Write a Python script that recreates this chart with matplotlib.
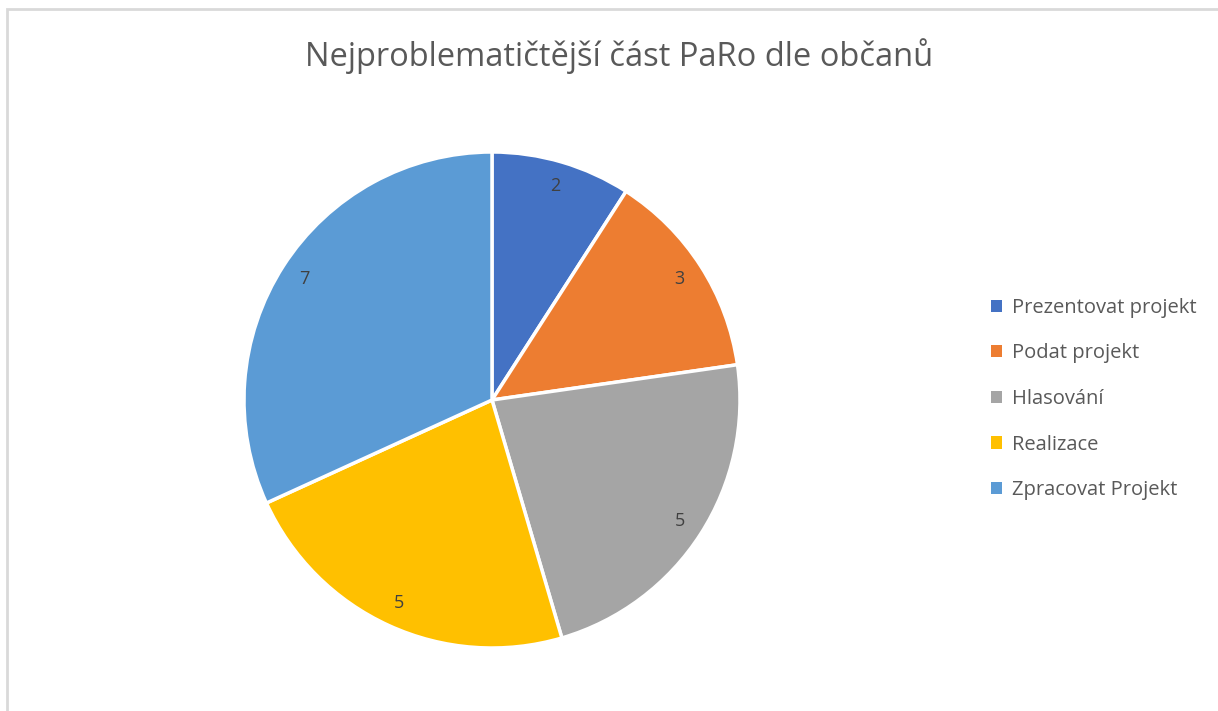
import matplotlib.pyplot as plt
from matplotlib.patches import Rectangle

# data
categories = ['Prezentovat projekt', 'Podat projekt', 'Hlasování', 'Realizace', 'Zpracovat Projekt']
values = [2, 3, 5, 5, 7]
colors = ['#4472C4', '#ED7D31', '#A5A5A5', '#FFC000', '#5B9BD5']
title = 'Nejproblematičtější část PaRo dle občanů'

plt.rcParams['font.family'] = ['Open Sans', 'DejaVu Sans']

fig = plt.figure(figsize=(12.18, 7.11), dpi=100)

# light grey chart border (only top and left visible)
fig.patches.append(Rectangle((7 / 1218, -0.1), 1.2, 1.1 - 9 / 711,
                             transform=fig.transFigure, fill=False,
                             edgecolor='#D9D9D9', linewidth=2))

ax = fig.add_axes([244 / 1218, 1 - 648 / 711, 496 / 1218, 496 / 711])
wedges, texts = ax.pie(values, colors=colors, startangle=90, counterclock=False,
                       labels=[str(v) for v in values], labeldistance=0.9,
                       wedgeprops=dict(edgecolor='white', linewidth=2.5),
                       textprops=dict(color='#404040', fontsize=13, ha='center', va='center'))
ax.set_xlim(-1.0, 1.0)
ax.set_ylim(-1.0, 1.0)
ax.set_aspect('equal')

fig.text(619 / 1218, 1 - 56 / 711, title, ha='center', va='center',
         fontsize=23.5, color='#595959')

leg = fig.legend(wedges, categories, loc='center left',
                 bbox_to_anchor=(973 / 1218, 1 - 399 / 711),
                 frameon=False, handlelength=0.55, handleheight=0.55,
                 handletextpad=0.5, labelspacing=1.27, fontsize=14.5)
for t in leg.get_texts():
    t.set_color('#595959')
for h in leg.legend_handles:
    h.set_linewidth(0)

fig.savefig('out.png', dpi=100)
